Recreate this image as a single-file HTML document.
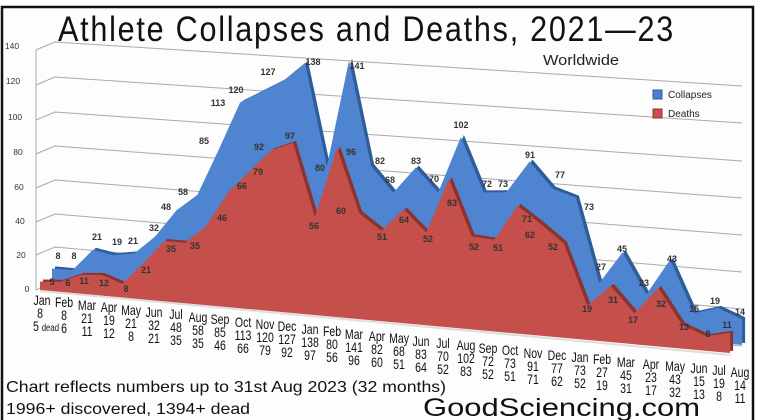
<!DOCTYPE html>
<html><head><meta charset="utf-8"><style>
html,body{margin:0;padding:0;background:#fff;}
svg{display:block;}
.t{font-family:"Liberation Sans",sans-serif;}
.ax text{font-family:"Liberation Sans",sans-serif;font-size:13.5px;fill:#111;text-anchor:middle;transform-box:fill-box;transform-origin:center;transform:scaleX(0.78);}
.dl{font-family:"Liberation Sans",sans-serif;font-size:9px;font-weight:bold;fill:#333;text-anchor:middle;}
.yl{font-family:"Liberation Sans",sans-serif;font-size:8.5px;fill:#333;text-anchor:middle;}
</style></head><body>
<svg width="760" height="420" viewBox="0 0 760 420" xmlns="http://www.w3.org/2000/svg">
<rect x="0" y="0" width="760" height="420" fill="#fff"/>
<rect x="2" y="7" width="751" height="430" fill="#fdfdfd" stroke="#111" stroke-width="2.5"/>
<text class="t" x="58" y="41" font-size="35" textLength="617" lengthAdjust="spacingAndGlyphs" fill="#111" letter-spacing="2">Athlete Collapses and Deaths, 2021—23</text>
<text class="t" x="543" y="65" font-size="15" textLength="76" lengthAdjust="spacingAndGlyphs" fill="#222">Worldwide</text>

<g stroke="#aaa" stroke-width="1" fill="none">
<polyline points="36,50 55,42 742,86"/>
<polyline points="36,85 55,77 742,123"/>
<polyline points="36,120 55,112 742,161"/>
<polyline points="36,154 55,146 742,198"/>
<polyline points="36,188 55,180 742,235"/>
<polyline points="36,222 55,214 742,272"/>
<polyline points="36,255 55,247 742,309"/>
<polyline points="36,290 55,282 742,346"/>
<line x1="36" y1="50" x2="36" y2="290"/>
</g>
<g class="yl">
<text x="12" y="49">140</text><text x="13" y="84">120</text><text x="15" y="120">100</text>
<text x="18" y="155">80</text><text x="19" y="190">60</text><text x="20" y="224">40</text>
<text x="21" y="258">20</text><text x="27" y="292">0</text>
</g>

<rect x="653" y="90" width="9" height="9" fill="#4a7fcc" stroke="#2f5d9a"/>
<text class="t" x="668" y="98" font-size="10" fill="#222">Collapses</text>
<rect x="653" y="109" width="9" height="9" fill="#c9504c" stroke="#8c3330"/>
<text class="t" x="668" y="117" font-size="10" fill="#222">Deaths</text>

<polygon fill="#2f5d9a" transform="translate(3,-2)" points="52,268.4 72.4,270.3 92.9,249.8 113.6,255.1 134.4,253.4 155.3,236.4 176.3,210.5 197.4,194.9 218.7,149.7 240.1,102.5 261.6,91.8 283.2,80.9 305,62.9 326.9,166.5 349,60.5 371.1,166.1 393.3,192.6 415.7,167.6 438.2,192.5 460.9,137 483.6,192.4 506.4,192.3 529.5,161.6 552.6,188.6 575.9,197.6 599.3,283 622.7,252.2 646.4,294.4 670.1,259.7 694,313.1 718,307.9 742.1,319.2 742.1,345 52,282"/>
<polygon fill="#4f84d0" points="52,268.4 72.4,270.3 92.9,249.8 113.6,255.1 134.4,253.4 155.3,236.4 176.3,210.5 197.4,194.9 218.7,149.7 240.1,102.5 261.6,91.8 283.2,80.9 305,62.9 326.9,166.5 349,60.5 371.1,166.1 393.3,192.6 415.7,167.6 438.2,192.5 460.9,137 483.6,192.4 506.4,192.3 529.5,161.6 552.6,188.6 575.9,197.6 599.3,283 622.7,252.2 646.4,294.4 670.1,259.7 694,313.1 718,307.9 742.1,319.2 742.1,345 52,282"/>

<polygon fill="#8c3330" transform="translate(3,-2)" points="40,281.5 60.4,281.7 80.9,274.9 101.6,275 122.4,283.8 143.3,263.3 164.3,241 185.4,242.7 206.7,225.4 228.1,192.3 249.6,171.3 271.2,150.2 293,142.9 314.9,216.7 337,147.9 359.1,213.1 381.3,230.7 403.7,209.4 426.2,232.6 448.9,179 471.6,236.3 494.4,239.9 517.5,205.7 540.6,223.7 563.9,243.6 587.3,305.6 610.7,285.7 634.4,313.3 658.1,287.9 682,324.8 706,336.1 730.1,332.8 730.1,353 40,290"/>
<polygon fill="#c54f4b" points="40,281.5 60.4,281.7 80.9,274.9 101.6,275 122.4,283.8 143.3,263.3 164.3,241 185.4,242.7 206.7,225.4 228.1,192.3 249.6,171.3 271.2,150.2 293,142.9 314.9,216.7 337,147.9 359.1,213.1 381.3,230.7 403.7,209.4 426.2,232.6 448.9,179 471.6,236.3 494.4,239.9 517.5,205.7 540.6,223.7 563.9,243.6 587.3,305.6 610.7,285.7 634.4,313.3 658.1,287.9 682,324.8 706,336.1 730.1,332.8 730.1,353 40,290"/>
<line x1="40" y1="291" x2="731" y2="355" stroke="#ddd" stroke-width="2"/>

<g class="dl">
<text x="58" y="259">8</text><text x="74" y="259">8</text><text x="97" y="240">21</text><text x="117" y="245">19</text>
<text x="133" y="244">21</text><text x="154" y="231">32</text><text x="166" y="210">48</text><text x="183" y="195">58</text>
<text x="204" y="144">85</text><text x="218" y="106">113</text><text x="236" y="93">120</text><text x="268" y="75">127</text>
<text x="313" y="65">138</text><text x="320" y="171">80</text><text x="357" y="69">141</text><text x="380" y="164">82</text>
<text x="390" y="183">68</text><text x="416" y="164">83</text><text x="434" y="182">70</text><text x="461" y="128">102</text>
<text x="487" y="187">72</text><text x="503" y="187">73</text><text x="530" y="158">91</text><text x="560" y="178">77</text>
<text x="589" y="210">73</text><text x="601" y="270">27</text><text x="622" y="252">45</text><text x="644" y="286">23</text>
<text x="672" y="262">43</text><text x="694" y="312">15</text><text x="715" y="304">19</text><text x="740" y="315">14</text>
</g>
<g class="dl">
<text x="52" y="285">5</text><text x="68" y="286">6</text><text x="84" y="284">11</text><text x="104" y="286">12</text>
<text x="126" y="292">8</text><text x="146" y="273">21</text><text x="171" y="252">35</text><text x="195" y="249">35</text>
<text x="222" y="221">46</text><text x="242" y="189">66</text><text x="258" y="175">79</text><text x="259" y="150">92</text>
<text x="290" y="139">97</text><text x="314" y="229">56</text><text x="341" y="214">60</text><text x="351" y="155">96</text>
<text x="382" y="240">51</text><text x="404" y="223">64</text><text x="428" y="242">52</text><text x="452" y="206">83</text>
<text x="474" y="250">52</text><text x="498" y="251">51</text><text x="527" y="222">71</text><text x="530" y="238">62</text>
<text x="553" y="250">52</text><text x="587" y="312">19</text><text x="613" y="303">31</text><text x="633" y="323">17</text>
<text x="661" y="307">32</text><text x="684" y="330">13</text><text x="708" y="337">8</text><text x="727" y="328">11</text>
</g>

<g class="ax">
<text x="42" y="305">Jan</text><text x="40" y="318">8</text><text x="46" y="331">5 <tspan font-size="10">dead</tspan></text>
<text x="64" y="307">Feb</text><text x="64" y="320">8</text><text x="64" y="333">6</text>
<text x="87" y="310">Mar</text><text x="87" y="323">21</text><text x="87" y="336">11</text>
<text x="109" y="312">Apr</text><text x="109" y="325">19</text><text x="109" y="338">12</text>
<text x="131" y="315">May</text><text x="131" y="328">21</text><text x="131" y="341">8</text>
<text x="154" y="317">Jun</text><text x="154" y="330">32</text><text x="154" y="343">21</text>
<text x="176" y="319">Jul</text><text x="176" y="332">48</text><text x="176" y="345">35</text>
<text x="198" y="322">Aug</text><text x="198" y="335">58</text><text x="198" y="348">35</text>
<text x="220" y="324">Sep</text><text x="220" y="337">85</text><text x="220" y="350">46</text>
<text x="243" y="327">Oct</text><text x="243" y="340">113</text><text x="243" y="353">66</text>
<text x="265" y="329">Nov</text><text x="265" y="342">120</text><text x="265" y="355">79</text>
<text x="287" y="331">Dec</text><text x="287" y="344">127</text><text x="287" y="357">92</text>
<text x="310" y="334">Jan</text><text x="310" y="347">138</text><text x="310" y="360">97</text>
<text x="332" y="336">Feb</text><text x="332" y="349">80</text><text x="332" y="362">56</text>
<text x="354" y="339">Mar</text><text x="354" y="352">141</text><text x="354" y="365">96</text>
<text x="377" y="341">Apr</text><text x="377" y="354">82</text><text x="377" y="367">60</text>
<text x="399" y="343">May</text><text x="399" y="356">68</text><text x="399" y="369">51</text>
<text x="421" y="346">Jun</text><text x="421" y="359">83</text><text x="421" y="372">64</text>
<text x="443" y="348">Jul</text><text x="443" y="361">70</text><text x="443" y="374">52</text>
<text x="466" y="350">Aug</text><text x="466" y="363">102</text><text x="466" y="376">83</text>
<text x="488" y="353">Sep</text><text x="488" y="366">72</text><text x="488" y="379">52</text>
<text x="510" y="355">Oct</text><text x="510" y="368">73</text><text x="510" y="381">51</text>
<text x="533" y="358">Nov</text><text x="533" y="371">91</text><text x="533" y="384">71</text>
<text x="557" y="360">Dec</text><text x="557" y="373">77</text><text x="557" y="386">62</text>
<text x="580" y="362">Jan</text><text x="580" y="375">73</text><text x="580" y="388">52</text>
<text x="602" y="364">Feb</text><text x="602" y="377">27</text><text x="602" y="390">19</text>
<text x="626" y="367">Mar</text><text x="626" y="380">45</text><text x="626" y="393">31</text>
<text x="651" y="369">Apr</text><text x="651" y="382">23</text><text x="651" y="395">17</text>
<text x="675" y="371">May</text><text x="675" y="384">43</text><text x="675" y="397">32</text>
<text x="699" y="373">Jun</text><text x="699" y="386">15</text><text x="699" y="399">13</text>
<text x="719" y="375">Jul</text><text x="719" y="388">19</text><text x="719" y="401">8</text>
<text x="740" y="377">Aug</text><text x="740" y="390">14</text><text x="740" y="403">11</text>
</g>

<text class="t" x="6" y="392" font-size="16" textLength="440" lengthAdjust="spacingAndGlyphs" fill="#111">Chart reflects numbers up to 31st Aug 2023 (32 months)</text>
<text class="t" x="6" y="414" font-size="16" textLength="244" lengthAdjust="spacingAndGlyphs" fill="#111">1996+ discovered, 1394+ dead</text>
<text class="t" x="423" y="416" font-size="25" textLength="277" lengthAdjust="spacingAndGlyphs" fill="#111">GoodSciencing.com</text>
</svg>
</body></html>
